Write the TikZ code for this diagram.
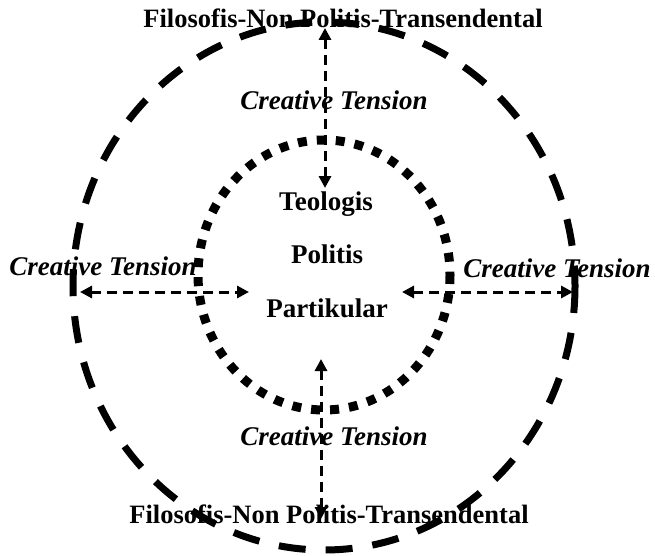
\documentclass[tikz,border=0pt]{standalone}
\usepackage{fontspec}
\setmainfont{Liberation Serif}
\usetikzlibrary{arrows.meta}
\begin{document}
\begin{tikzpicture}[x=1pt,y=-1pt,
  lbl/.style={font=\fontsize{26.5}{30}\selectfont\bfseries, inner sep=0pt, anchor=base},
  ct/.style={font=\fontsize{27}{30}\selectfont\bfseries\itshape, inner sep=0pt, anchor=base},
  outerring/.style={line width=7pt, dash pattern=on 27pt off 20pt},
  innerring/.style={line width=9pt, dash pattern=on 9pt off 10pt},
  tensionarrow/.style={line width=3pt, dash pattern=on 10pt off 6pt,
    {Triangle[length=12pt,width=12pt]}-{Triangle[length=12pt,width=12pt]}}]
\useasboundingbox (0,0) rectangle (655,556);
% texts
\node[lbl] (ttop) at (343,28) {Filosofis-Non Politis-Transendental};
\node[lbl] (tbot) at (329,523) {Filosofis-Non Politis-Transendental};
\node[lbl, font=\fontsize{27}{30}\selectfont\bfseries] (teo) at (326,210) {Teologis};
\node[lbl, font=\fontsize{27}{30}\selectfont\bfseries] (pol) at (327,263) {Politis};
\node[lbl, font=\fontsize{27}{30}\selectfont\bfseries] (par) at (327,317) {Partikular};
\node[ct] (ctt) at (334,110) {Creative Tension};
\node[ct] (ctb) at (334,445) {Creative Tension};
\node[ct] (ctl) at (103,275) {Creative Tension};
\node[ct] (ctr) at (557,277) {Creative Tension};
% rings
\draw[outerring] (324,286) ellipse [x radius=251, y radius=264];
\draw[innerring] (324,275) ellipse [x radius=126, y radius=135];
% arrow end points
\coordinate (atop1) at (325,28);
\coordinate (atop2) at (325,188);
\coordinate (abot1) at (321,359);
\coordinate (abot2) at (321,519);
\coordinate (al1) at (80,292);
\coordinate (al2) at (249,292);
\coordinate (ar1) at (402,292);
\coordinate (ar2) at (573,292);
\draw[tensionarrow] (atop1) -- (atop2);
\draw[tensionarrow] (abot1) -- (abot2);
\draw[tensionarrow] (al1) -- (al2);
\draw[tensionarrow] (ar1) -- (ar2);
\end{tikzpicture}
\end{document}
